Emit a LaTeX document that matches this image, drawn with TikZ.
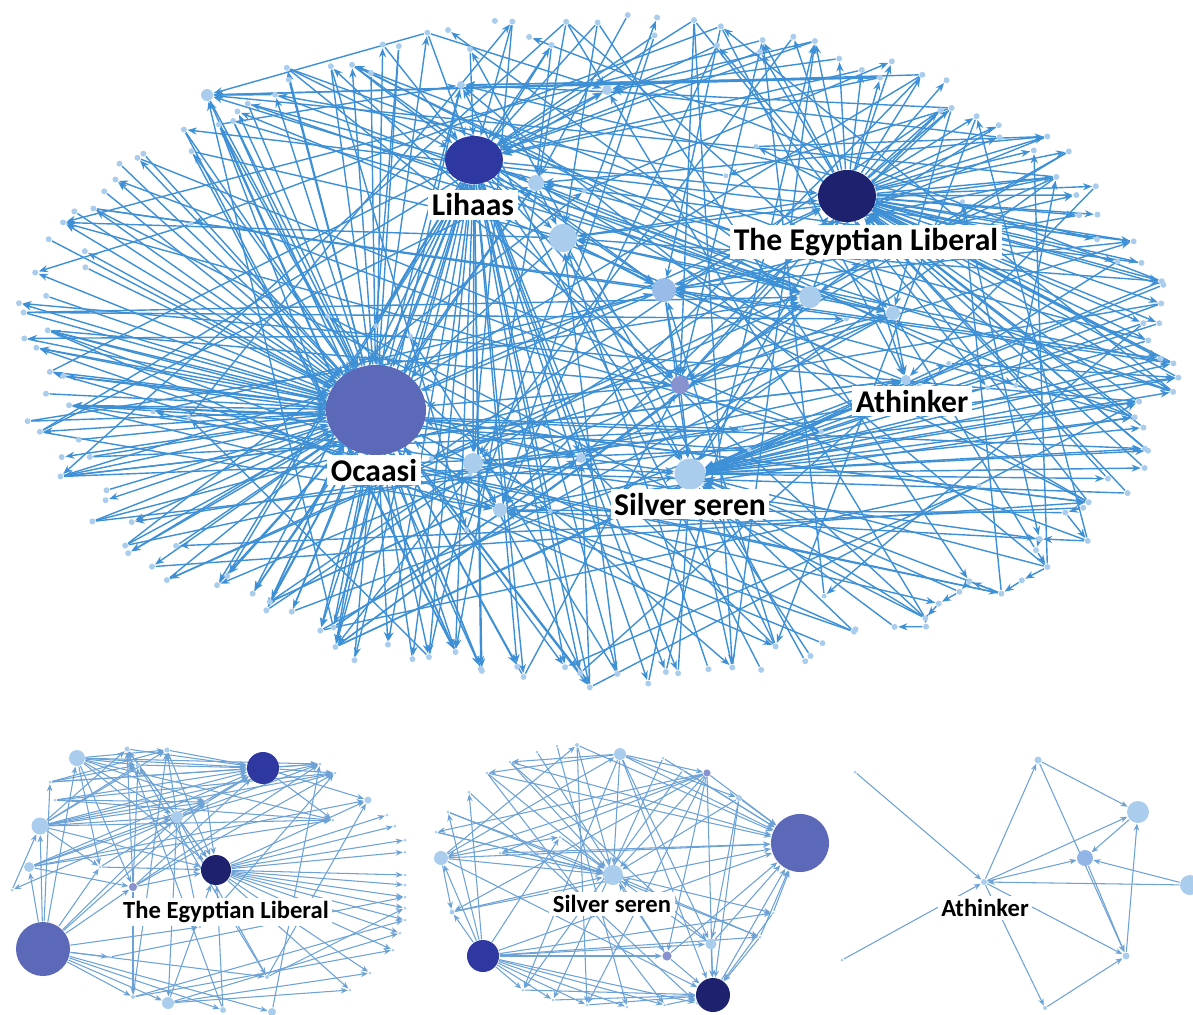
\documentclass[tikz,border=0pt]{standalone}
\usepackage{fontspec}
\setmainfont{Carlito}
\usetikzlibrary{arrows.meta,shapes.geometric}
\definecolor{edgeblue}{RGB}{62,144,214}
\definecolor{edgepale}{RGB}{108,162,214}
\definecolor{leafblue}{RGB}{170,205,238}
\definecolor{midblue}{RGB}{146,180,230}
\definecolor{lilac}{RGB}{136,146,206}
\definecolor{hubmid}{RGB}{92,104,184}
\definecolor{hubdark}{RGB}{46,56,160}
\definecolor{hubnavy}{RGB}{30,34,110}
\pgfdeclarelayer{edges}
\pgfsetlayers{edges,main}
\tikzset{
  leaf/.style={circle,fill=leafblue,inner sep=0pt,minimum size=#1*0.01cm},
  leaf/.default=6,
  hub/.style={ellipse,inner sep=0pt,fill=#1},
  edge/.style={draw=edgeblue,line width=0.4pt,-{Stealth[length=2.6pt,width=2pt]}},
  pale/.style={draw=edgepale,line width=0.3pt,-{Stealth[length=2pt,width=1.6pt]}},
  tag/.style={fill=white,inner sep=1pt,font=\bfseries\fontsize{9}{10}\selectfont},
  smalltag/.style={fill=white,inner sep=1pt,font=\bfseries\fontsize{7}{8}\selectfont}
}
\begin{document}
\begin{tikzpicture}[x=0.01cm,y=-0.01cm]
\useasboundingbox (0,0) rectangle (1193,1014);
\pgfmathsetseed{1207}
\foreach \i in {0,...,159}{
  \pgfmathsetmacro\ang{\i*2.25+1.2*rand}
  \pgfmathsetmacro\rad{0.955+0.045*rand}
  \node[leaf] (p\i) at ({600+588*\rad*cos(\ang)},{354-340*\rad*sin(\ang)}) {};
}
\foreach \j in {1,...,30}{
  \pgfmathsetmacro\ang{360*rnd}
  \pgfmathsetmacro\rad{0.3+0.55*rnd}
  \node[leaf=5] (q\j) at ({600+588*\rad*cos(\ang)},{354-340*\rad*sin(\ang)}) {};
}
\node[hub=hubdark,minimum width=0.58cm,minimum height=0.48cm] (lihaas) at (474,160) {};
\node[hub=hubnavy,minimum width=0.58cm,minimum height=0.52cm] (egypt) at (847,196) {};
\node[hub=hubmid,minimum width=1cm,minimum height=0.9cm] (ocaasi) at (376,410) {};
\node[leaf=31] (silver) at (690,474) {};
\node[leaf=28] (m1) at (563,238) {};
\node[leaf=24,fill=midblue!70!leafblue] (m2) at (664,290) {};
\node[leaf=22] (m3) at (810,297) {};
\node[leaf=18,fill=lilac] (m4) at (680,385) {};
\node[leaf=20] (m5) at (473,463) {};
\node[leaf=14] (m6) at (500,510) {};
\node[leaf=16] (m7) at (536,183) {};
\node[leaf=14] (m8) at (893,313) {};
\node[leaf=10] (m9) at (906,380) {};
\node[leaf=10] (m10) at (581,458) {};
\node[leaf=10] (m11) at (607,90) {};
\node[leaf=8] (m12) at (461,85) {};
\node[leaf=12] (m13) at (207,95) {};
\node[tag] (lihaaslab) at (473,205) {Lihaas};
\node[tag] (egyptlab) at (866,242) {The Egyptian Liberal};
\node[tag] (athinklab) at (912,401) {Athinker};
\node[tag] (ocaasilab) at (374,470) {Ocaasi};
\node[tag] (silverlab) at (690,504) {Silver seren};
\begin{pgfonlayer}{edges}
\foreach \i in {48,50,...,120} \draw[edge] (ocaasi) -- (p\i);
\foreach \i in {49,51,...,119} \draw[edge] (p\i) -- (ocaasi);
\foreach \i in {100,...,124} \draw[edge] (lihaas) -- (p\i);
\foreach \i in {26,28,...,54} \draw[edge] (p\i) -- (lihaas);
\foreach \i in {148,...,159} \draw[edge] (p\i) -- (egypt);
\foreach \i in {0,...,34} \draw[edge] (egypt) -- (p\i);
\foreach \i in {150,...,159} \draw[edge] (silver) -- (p\i);
\foreach \i in {0,...,6} \draw[edge] (p\i) -- (silver);
\foreach \i in {122,124,...,142} \draw[edge] (p\i) -- (silver);
\foreach \h in {m1,m2,m3,m4,m5,m6,m7,m8,m9,m10,m11,m12,m13}{
  \foreach \k in {1,...,8}{
    \pgfmathtruncatemacro\t{random(0,159)}
    \draw[edge] (p\t) -- (\h);
  }
}
\foreach \k in {1,...,36}{
  \pgfmathtruncatemacro\s{random(0,159)}
  \pgfmathtruncatemacro\t{mod(\s+random(35,110),160)}
  \draw[edge] (p\s) -- (p\t);
}
\foreach \j in {1,...,30}{
  \pgfmathtruncatemacro\s{random(0,159)}
  \pgfmathtruncatemacro\t{random(0,159)}
  \draw[edge] (p\s) -- (q\j);
  \draw[edge] (q\j) -- (p\t);
}
\foreach \i in {134,...,146}{
  \pgfmathtruncatemacro\t{\i+1}
  \draw[edge] (p\t) -- (p\i);
}
\foreach \h in {m1,m2,m3,m4,m5,m7,m10,silver,egypt,ocaasi}
  \draw[edge] (lihaas) -- (\h);
\foreach \h in {m1,m2,m3,m4,m8,m9,silver,ocaasi}
  \draw[edge] (\h) -- (egypt);
\foreach \h in {m1,m2,m4,m5,m6,m10,m3,m9}
  \draw[edge] (\h) -- (silver);
\foreach \h in {m1,m2,m4,m5,m6,m7,m10,m12,m13}
  \draw[edge] (\h) -- (ocaasi);
\draw[edge] (m3) -- (m8);
\draw[edge] (m8) -- (m9);
\draw[edge] (m2) -- (m4);
\draw[edge] (m1) -- (m2);
\draw[edge] (m5) -- (m6);
\draw[edge] (m7) -- (m1);
\end{pgfonlayer}
% the egyptian liberal
\node[hub=hubmid,minimum size=0.54cm] (ebig) at (43,949) {};
\node[hub=hubdark,minimum size=0.32cm] (edark) at (263,768) {};
\node[hub=hubnavy,minimum size=0.30cm] (enavy) at (216,870) {};
\foreach \x/\y/\s [count=\n] in {77/758/16,127/749/5,167/750/5,138/765/5,40/826/17,
  29/867/10,177/817/12,133/887/8,168/1003/12,223/1010/6,272/1012/8,320/764/3,
  335/773/3,368/800/7,387/815/3,395/826/3,405/840/3,405/852/3,405/875/3,
  405/885/3,405/897/3,405/908/3,405/920/3,400/933/3,393/950/3,370/973/3,
  350/990/3,12/890/3,50/782/3,55/800/3,100/867/3,207/802/4,333/820/3,
  133/997/4,267/977/4,200/927/3,110/957/3}
  \node[leaf=\s] (a\n) at (\x,\y) {};
\node[fill=lilac,circle,inner sep=0pt,minimum size=0.08cm] at (a8) {};
\node[smalltag] (egyptlab2) at (226,912) {The Egyptian Liberal};
\begin{pgfonlayer}{edges}
\foreach \i in {14,...,27} \draw[pale] (enavy) -- (a\i);
\foreach \i in {1,2,3,4,5,6,7,29,30,31,8,32} \draw[pale] (a\i) -- (edark);
\foreach \i in {12,13,14,33} \draw[pale] (edark) -- (a\i);
\foreach \i in {1,5,6,7,8,9,10,11,31,34,35,36,37,32,29} \draw[pale] (ebig) -- (a\i);
\foreach \i in {1,5,7,8,31,32,9,10,2,3} \draw[pale] (a\i) -- (enavy);
\foreach \i in {3,4,7,8,12,32,31,33} \draw[pale] (a1) -- (a\i);
\foreach \i in {2,3,4,7,32,33,13,12,31} \draw[pale] (a5) -- (a\i);
\foreach \i in {2,3,12,13,28,36,35,9} \draw[pale] (a7) -- (a\i);
\foreach \i in {7,8,32,33,14} \draw[pale] (a6) -- (a\i);
\foreach \i in {3,12,4} \draw[pale] (a29) -- (a\i);
\foreach \i in {13,33,32} \draw[pale] (a30) -- (a\i);
\foreach \i in {4,2,12,13,34} \draw[pale] (a8) -- (a\i);
\foreach \i in {27,26,24} \draw[pale] (a9) -- (a\i);
\foreach \i in {25,23,3} \draw[pale] (a34) -- (a\i);
\foreach \i in {4,22,14} \draw[pale] (a35) -- (a\i);
\draw[pale] (a10) -- (a2);
\draw[pale] (a11) -- (a12);
\draw[pale] (a28) -- (a5);
\draw[pale] (a36) -- (a13);
\draw[pale] (a37) -- (a21);
\end{pgfonlayer}
% silver seren
\node[hub=hubmid,minimum size=0.58cm] (sbig) at (800,843) {};
\node[hub=hubdark,minimum size=0.32cm] (sdark) at (483,956) {};
\node[hub=hubnavy,minimum size=0.34cm] (snavy) at (713,995) {};
\node[leaf=20] (scen) at (613,875) {};
\foreach \x/\y/\s [count=\n] in {620/754/12,441/858/14,707/773/7,739/798/6,711/944/11,
  667/956/9,452/912/5,577/745/4,469/792/3,436/832/3,448/812/3,487/773/3,
  510/762/3,537/752/3,557/746/3,663/758/3,683/770/3,773/913/3,760/937/3,
  523/990/3,553/1000/3,587/1005/3,627/1007/3,665/1005/3,697/1003/3,
  500/853/3,560/837/3}
  \node[leaf=\s] (b\n) at (\x,\y) {};
\node[fill=lilac,circle,inner sep=0pt,minimum size=0.07cm] at (b3) {};
\node[fill=lilac,circle,inner sep=0pt,minimum size=0.09cm] at (b6) {};
\node[smalltag] (silverlab2) at (612,904) {Silver seren};
\begin{pgfonlayer}{edges}
\foreach \i in {2,7,1,8,10,11,26,27,5,6,4,3,19,12,13} \draw[pale] (b\i) -- (scen);
\foreach \i in {1,3,4,2,7,12,13,8,26,18,19,5,6,16,17} \draw[pale] (b\i) -- (sbig);
\foreach \i in {2,7,9,11,20,21,22,23,24,25,5,6,19,18,27} \draw[pale] (sdark) -- (b\i);
\foreach \i in {5,6,18,19,20,21,22,24,3,4,1,2} \draw[pale] (b\i) -- (snavy);
\foreach \i in {3,4,12,13,5,20} \draw[pale] (b1) -- (b\i);
\foreach \i in {2,7,10,6,22,26} \draw[pale] (b3) -- (b\i);
\foreach \i in {7,1,27,8} \draw[pale] (b2) -- (b\i);
\draw[pale] (b12) -- (b24);
\draw[pale] (b13) -- (b5);
\draw[pale] (b14) -- (b6);
\draw[pale] (b9) -- (b25);
\draw[pale] (b10) -- (b18);
\draw[pale] (b11) -- (b19);
\draw[pale] (b15) -- (b23);
\draw[pale] (b8) -- (b22);
\draw[pale] (b16) -- (b21);
\draw[pale] (b17) -- (b20);
\draw[pale] (b4) -- (b5);
\draw[pale] (sdark) -- (sbig);
\draw[pale] (snavy) -- (sbig);
\end{pgfonlayer}
% athinker
\node[leaf=6] (athink) at (984,882) {};
\node[leaf=7] (c1) at (1038,760) {};
\node[leaf=22] (c2) at (1138,812) {};
\node[leaf=16,fill=midblue] (c3) at (1085,858) {};
\node[leaf=20] (c4) at (1190,885) {};
\node[leaf=7] (c5) at (1126,956) {};
\node[leaf=4] (c6) at (1045,1008) {};
\node[leaf=3] (c7) at (855,772) {};
\node[leaf=3] (c8) at (842,960) {};
\node[smalltag] (athinklab2) at (985,908) {Athinker};
\begin{pgfonlayer}{edges}
\draw[pale] (c7) -- (athink);
\draw[pale] (c8) -- (athink);
\draw[pale] (athink) -- (c1);
\draw[pale] (c1) -- (c2);
\draw[pale] (athink) -- (c2);
\draw[pale] (c2) -- (c3);
\draw[pale] (athink) -- (c3);
\draw[pale] (c4) -- (c3);
\draw[pale] (c4) -- (athink);
\draw[pale] (c1) -- (c5);
\draw[pale] (c3) -- (c5);
\draw[pale] (c5) -- (c2);
\draw[pale] (athink) -- (c5);
\draw[pale] (athink) -- (c6);
\draw[pale] (c6) -- (c5);
\end{pgfonlayer}
\end{tikzpicture}
\end{document}
